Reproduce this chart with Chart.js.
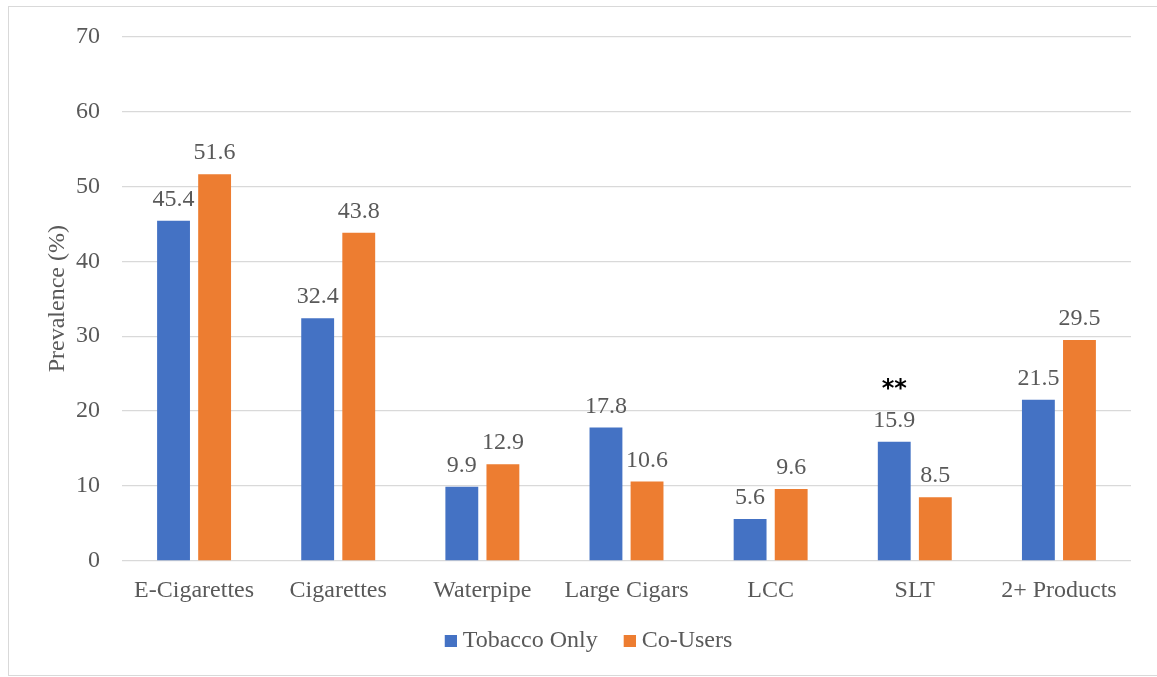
<!DOCTYPE html>
<html>
<head>
<meta charset="utf-8">
<script src="https://cdn.jsdelivr.net/npm/chart.js@4.4.0/dist/chart.umd.min.js"></script>
<style>
  html, body { margin: 0; padding: 0; background: #fff; overflow: hidden; }
  #frame { position: absolute; left: 8px; top: 6px; width: 1170px; height: 670px; border: 1px solid #d9d9d9; box-sizing: border-box; }
  #wrap { position: absolute; left: 0; top: 0; width: 1157px; height: 677px; }
</style>
</head>
<body>
<div id="frame"></div>
<div id="wrap"><canvas id="c" width="1157" height="677"></canvas></div>
<script>
const categories = ["E-Cigarettes", "Cigarettes", "Waterpipe", "Large Cigars", "LCC", "SLT", "2+ Products"];
const tobaccoOnly = [45.4, 32.4, 9.9, 17.8, 5.6, 15.9, 21.5];
const coUsers = [51.6, 43.8, 12.9, 10.6, 9.6, 8.5, 29.5];
const seriesNames = ["Tobacco Only", "Co-Users"];
const seriesColors = ["#4472C4", "#ED7D31"];
const yTicks = [0, 10, 20, 30, 40, 50, 60, 70];
const starCategory = "SLT";
const starText = "**";

const SERIF = "'Liberation Serif', 'Times New Roman', serif";
const TXT = "#595959";

// legend marker: 24px wide canvas with the 12px square on its right half
function legendMarker(color) {
  const cv = document.createElement('canvas');
  cv.width = 24; cv.height = 12;
  const g = cv.getContext('2d');
  g.fillStyle = color;
  g.fillRect(12, 0, 12, 12);
  return cv;
}

const labelPlugin = {
  id: 'valueLabels',
  afterLayout(chart) {
    chart.legend.left += 20;
    chart.legend.right += 20;
  },
  afterDatasetsDraw(chart) {
    const ctx = chart.ctx;
    ctx.save();
    ctx.font = "24px " + SERIF;
    ctx.fillStyle = TXT;
    ctx.textAlign = 'center';
    ctx.textBaseline = 'alphabetic';
    chart.data.datasets.forEach((ds, di) => {
      const meta = chart.getDatasetMeta(di);
      meta.data.forEach((bar, i) => {
        ctx.fillText(ds.data[i].toFixed(1), bar.x, bar.y - 15);
      });
    });
    const si = categories.indexOf(starCategory);
    const bar = chart.getDatasetMeta(0).data[si];
    ctx.font = "bold 24px 'DejaVu Sans', sans-serif";
    ctx.fillStyle = "#000";
    ctx.fillText(starText, bar.x, bar.y - 46);
    ctx.restore();
  }
};

new Chart(document.getElementById('c'), {
  type: 'bar',
  data: {
    labels: categories,
    datasets: [
      { label: seriesNames[0], data: tobaccoOnly, backgroundColor: seriesColors[0], borderWidth: 0, pointStyle: legendMarker(seriesColors[0]) },
      { label: seriesNames[1], data: coUsers, backgroundColor: seriesColors[1], borderWidth: 0, pointStyle: legendMarker(seriesColors[1]) }
    ]
  },
  options: {
    responsive: false,
    animation: false,
    devicePixelRatio: 1,
    categoryPercentage: 0.57,
    barPercentage: 0.8,
    layout: { padding: { left: 0, right: 26, top: 35, bottom: 14 } },
    plugins: {
      tooltip: { enabled: false },
      legend: {
        position: 'bottom',
        labels: {
          font: { family: SERIF, size: 24 },
          color: TXT,
          usePointStyle: true,
          pointStyleWidth: 12,
          boxWidth: 12,
          boxHeight: 12,
          padding: 20
        }
      }
    },
    scales: {
      x: {
        grid: { display: false, drawTicks: false },
        border: { display: false },
        ticks: { font: { family: SERIF, size: 24 }, color: TXT, padding: 15, maxRotation: 0, autoSkip: false },
        afterFit(s) { s.height = 48; }
      },
      y: {
        min: 0, max: 70,
        afterBuildTicks(s) { s.ticks = yTicks.map(v => ({ value: v })); },
        grid: { color: '#d9d9d9', lineWidth: 1.3, drawTicks: false },
        border: { display: false },
        ticks: { font: { family: SERIF, size: 24 }, color: TXT, padding: 22 },
        title: { display: true, text: 'Prevalence (%)', font: { family: SERIF, size: 24 }, color: TXT, padding: { top: 43, bottom: 0 } },
        afterFit(s) { s.width = 122; }
      }
    }
  },
  plugins: [labelPlugin]
});
</script>
</body>
</html>
